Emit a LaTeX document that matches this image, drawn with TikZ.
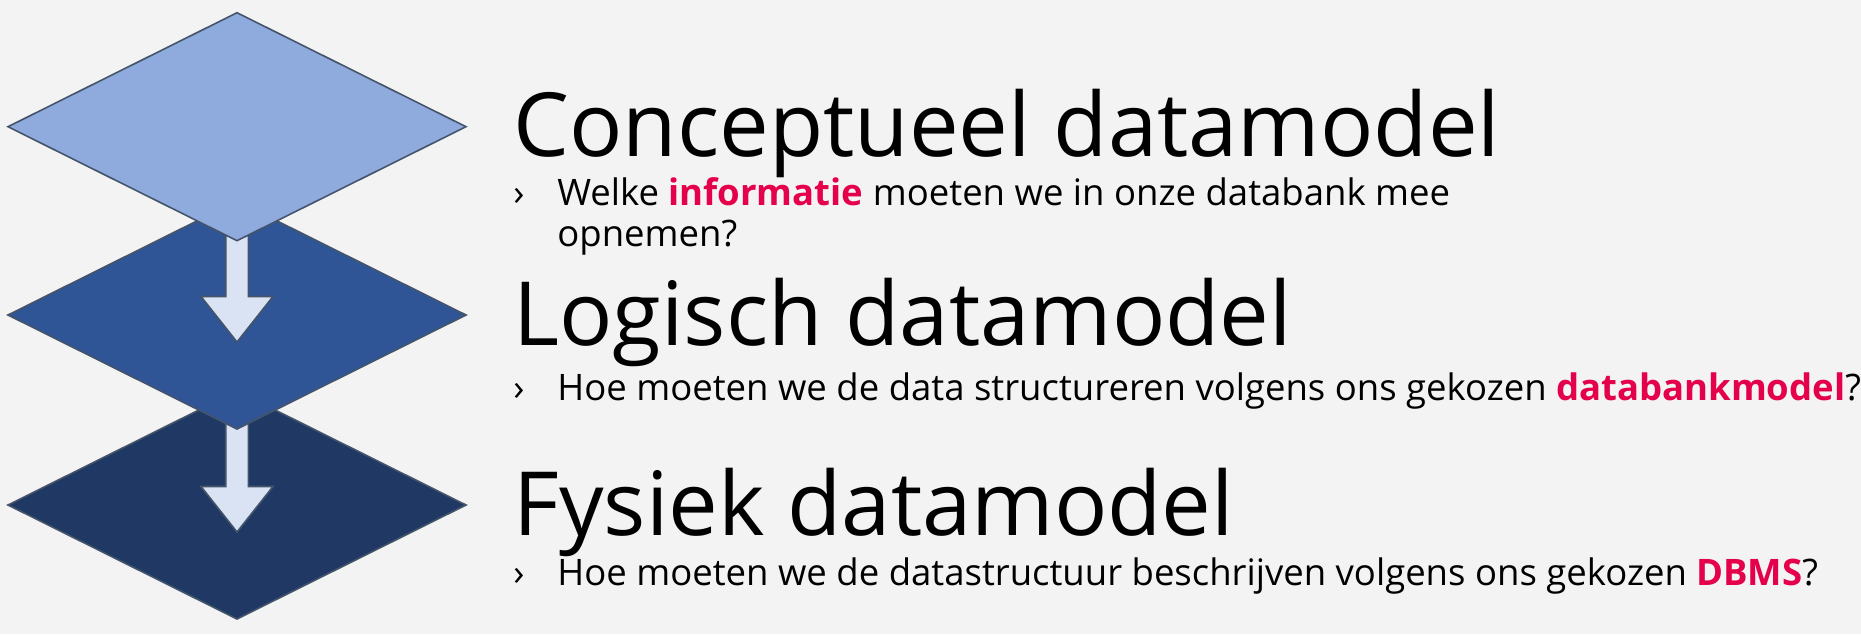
\documentclass[tikz,border=0pt]{standalone}
\usepackage{fontspec}
\setmainfont{Open Sans}
\usepackage{xcolor}
\usetikzlibrary{positioning, arrows.meta, shapes}

\definecolor{bgcol}{HTML}{F3F3F3}
\definecolor{layerone}{HTML}{8FAADC}
\definecolor{layertwo}{HTML}{2F5597}
\definecolor{layerthree}{HTML}{203864}
\definecolor{arrowcol}{HTML}{DAE3F3}
\definecolor{edgecol}{HTML}{44546A}
\definecolor{accent}{HTML}{E4004B}

\tikzset{
    layer/.style={draw=edgecol, line width=0.8pt, line join=miter},
    downarrow/.style={fill=arrowcol, draw=edgecol, line width=0.8pt},
    title/.style={anchor=base west, inner sep=0pt, font=\fontsize{44.3}{52}\selectfont},
    sub/.style={anchor=base west, inner sep=0pt, font=\fontsize{18.25}{21}\selectfont},
}

\begin{document}
\begin{tikzpicture}[x=0.5pt, y=-0.5pt]
    \fill[bgcol] (0,0) rectangle (1861,634);
    \useasboundingbox (0,0) rectangle (1861,634);

    \coordinate (c1) at (237,126.7);
    \coordinate (c2) at (237,315);
    \coordinate (c3) at (237,505);
    \coordinate (tip1) at (237,342);
    \coordinate (tip2) at (237,532);

    % layers, lowest first
    \filldraw[layer, fill=layerthree] (c3) ++(-229,0) -- ++(229,-114) -- ++(229,114) -- ++(-229,114) -- cycle;
    \filldraw[downarrow] (tip2) -- ++(-36,-45.5) -- ++(24.7,0) -- ++(0,-76.5) -- ++(22.6,0) -- ++(0,76.5) -- ++(24.7,0) -- cycle;
    \filldraw[layer, fill=layertwo] (c2) ++(-229,0) -- ++(229,-114) -- ++(229,114) -- ++(-229,114) -- cycle;
    \filldraw[downarrow] (tip1) -- ++(-36,-45.5) -- ++(24.7,0) -- ++(0,-76.5) -- ++(22.6,0) -- ++(0,76.5) -- ++(24.7,0) -- cycle;
    \filldraw[layer, fill=layerone] (c1) ++(-229,0) -- ++(229,-114) -- ++(229,114) -- ++(-229,114) -- cycle;

    % texts
    \node[title] (concept) at (513,156) {Conceptueel datamodel};
    \node[sub] (bul1) at (513,205) {›};
    \node[sub] (q1a) at (557,205) {Welke \textbf{\textcolor{accent}{informatie}} moeten we in onze databank mee};
    \node[sub] (q1b) at (557,246) {opnemen?};

    \node[title] (logisch) at (513,345) {Logisch datamodel};
    \node[sub] (bul2) at (513,400) {›};
    \node[sub] (q2) at (557,400) {Hoe moeten we de data structureren volgens ons gekozen \textbf{\textcolor{accent}{databankmodel}}?};

    \node[title] (fysiek) at (513,535) {Fysiek datamodel};
    \node[sub] (bul3) at (513,585) {›};
    \node[sub] (q3) at (557,585) {Hoe moeten we de datastructuur beschrijven volgens ons gekozen \textbf{\textcolor{accent}{DBMS}}?};
\end{tikzpicture}
\end{document}
